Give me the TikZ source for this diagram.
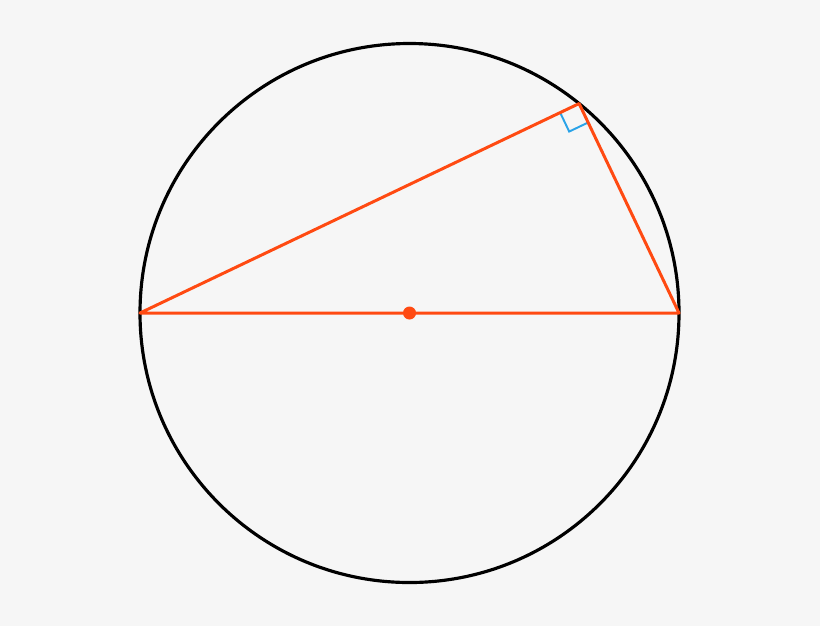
\documentclass[tikz,border=0pt]{standalone}
\usepackage{xcolor}
\usepackage{tikz}
\usetikzlibrary{positioning,calc}
\definecolor{bgray}{HTML}{F6F6F6}
\definecolor{tri red}{HTML}{FF4A12}
\definecolor{mark blue}{HTML}{2AA3E8}
\begin{document}
\begin{tikzpicture}[x=0.02cm, y=-0.02cm,
    rim/.style={draw=black, line width=1.8pt},
    side/.style={draw=tri red, line width=1.7pt},
    rmark/.style={draw=mark blue, line width=1.1pt}]
    \fill[bgray] (0,0) rectangle (820,626);
    \useasboundingbox (0,0) rectangle (820,626);
    \coordinate (O) at (409.5,313);
    \coordinate (A) at (140,313);
    \coordinate (B) at (679,313);
    \coordinate (C) at ($(O)+(-51.0:269.5)$);
    % right angle at C
    \coordinate (CA) at ($(C)!0.42cm!(A)$);
    \coordinate (CB) at ($(C)!0.42cm!(B)$);
    \coordinate (CX) at ($(CA)+(CB)-(C)$);
    
    \draw[rim] (O) circle[radius=269.5];
    \draw[rmark] (CA) -- (CX) -- (CB);
    \draw[side, line join=round] (A) -- (C) -- (B) -- cycle;
    \fill[tri red] (O) circle[radius=6.5];
\end{tikzpicture}
\end{document}
